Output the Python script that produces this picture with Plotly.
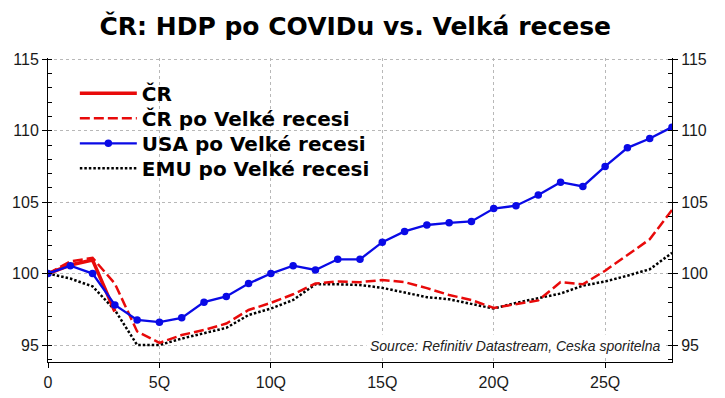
import plotly.graph_objects as go

quarters = list(range(29))
cr = [100, 100.6, 100.95, 97.35]
cr_vr = [100, 100.85, 101.1, 99.3, 95.95, 95.15, 95.7, 96.05, 96.5, 97.45, 97.95,
         98.55, 99.3, 99.45, 99.4, 99.55, 99.4, 98.98, 98.5, 98.15, 97.6, 97.85,
         98.12, 99.4, 99.25, 100.2, 101.3, 102.4, 104.45]
usa = [100, 100.55, 100.0, 97.8, 96.75, 96.6, 96.9, 98.0, 98.4, 99.3, 100.0,
       100.55, 100.25, 101.0, 101.0, 102.2, 102.95, 103.4, 103.55, 103.65, 104.55,
       104.75, 105.5, 106.4, 106.1, 107.5, 108.8, 109.45, 110.25]
emu = [100, 99.65, 99.1, 97.45, 95.0, 95.0, 95.45, 95.85, 96.2, 97.1, 97.55,
       98.15, 99.25, 99.25, 99.2, 99.0, 98.65, 98.35, 98.2, 97.9, 97.55, 97.95,
       98.3, 98.6, 99.15, 99.45, 99.85, 100.3, 101.45]

x_tickvals = [0, 5, 10, 15, 20, 25]
x_ticktext = ["0", "5Q", "10Q", "15Q", "20Q", "25Q"]
y_tickvals = [95, 100, 105, 110, 115]

names = ["ČR", "ČR po Velké recesi", "USA po Velké recesi", "EMU po Velké recesi"]
title = "ČR: HDP po COVIDu vs. Velká recese"
source = "Source: Refinitiv Datastream, Ceska sporitelna"

RED = "#e80a0a"
BLUE = "#0a0ae6"

fig = go.Figure()
fig.add_trace(go.Scatter(x=quarters, y=emu, name=names[3], mode="lines", legend="legend4",
                         line=dict(color="black", width=2.5, dash="2.5px,2px")))
fig.add_trace(go.Scatter(x=quarters, y=cr_vr, name=names[1], mode="lines", legend="legend2",
                         line=dict(color=RED, width=2.5, dash="10px,4px")))
fig.add_trace(go.Scatter(x=quarters[:len(cr)], y=cr, name=names[0], mode="lines", legend="legend",
                         line=dict(color=RED, width=3.5)))
fig.add_trace(go.Scatter(x=quarters, y=usa, name=names[2], mode="lines+markers", legend="legend3",
                         yaxis="y2",
                         line=dict(color=BLUE, width=2.3),
                         marker=dict(color=BLUE, size=7.5, symbol="circle")))

grid = dict(showgrid=True, gridcolor="#b8b8b8", griddash="dot", gridwidth=1)
tickfont = dict(family="Liberation Sans, Arial, sans-serif", size=16, color="#1a1a1a")
yr = [93.81, 115.09]

legfont = dict(family="DejaVu Sans, sans-serif", size=20, color="black", weight="bold")
row_y = [0.8839, 0.8016, 0.7194, 0.6372]


def leg(y):
    return dict(x=0.043, y=y, xanchor="left", yanchor="middle", bgcolor="rgba(0,0,0,0)",
                borderwidth=0, itemwidth=57, font=legfont)


fig.update_layout(
    width=725, height=398,
    margin=dict(l=48, r=53, t=58, b=36, autoexpand=False),
    paper_bgcolor="white", plot_bgcolor="white",
    title=dict(text=title, x=0.49, xanchor="center", y=0.935, yanchor="middle",
               font=dict(family="DejaVu Sans, sans-serif", size=25, color="black", weight="bold")),
    xaxis=dict(range=[0, 28], tickvals=x_tickvals, ticktext=x_ticktext, ticks="outside",
               ticklen=5, tickcolor="black", showline=True, linecolor="black", linewidth=1,
               zeroline=False, tickfont=tickfont, ticklabelstandoff=1, **grid),
    yaxis=dict(range=yr, tickvals=y_tickvals, ticks="outside", ticklen=5, tickcolor="black",
               showline=True, linecolor="black", linewidth=1, zeroline=False,
               tickfont=tickfont,
               minor=dict(ticks="inside", ticklen=4, tickcolor="black", dtick=1, showgrid=False),
               **grid),
    yaxis2=dict(range=yr, overlaying="y", side="right", tickvals=y_tickvals, ticks="outside",
                ticklen=5, tickcolor="black", showline=True, linecolor="black", linewidth=1,
                zeroline=False, showgrid=False, tickfont=tickfont,
                minor=dict(ticks="inside", ticklen=4, tickcolor="black", dtick=1, showgrid=False)),
    legend=leg(row_y[0]),
    legend2=leg(row_y[1]),
    legend3=leg(row_y[2]),
    legend4=leg(row_y[3]),
    showlegend=True,
)

# white background box behind the legend (hides gridlines, as in the original)
fig.add_shape(type="rect", xref="paper", yref="paper", x0=0.031, x1=0.553, y0=0.575, y1=0.943,
              fillcolor="white", line_width=0, layer="between")

fig.add_annotation(text=source, xref="paper", yref="paper", x=0.987, y=0.052,
                   xanchor="right", yanchor="middle", showarrow=False, bgcolor="white",
                   borderpad=3,
                   font=dict(family="Liberation Sans, Arial, sans-serif", size=14,
                             color="#222222", style="italic"))

fig.write_html("out.html", config={"displayModeBar": False},
               post_script="document.body.style.margin='0';")
